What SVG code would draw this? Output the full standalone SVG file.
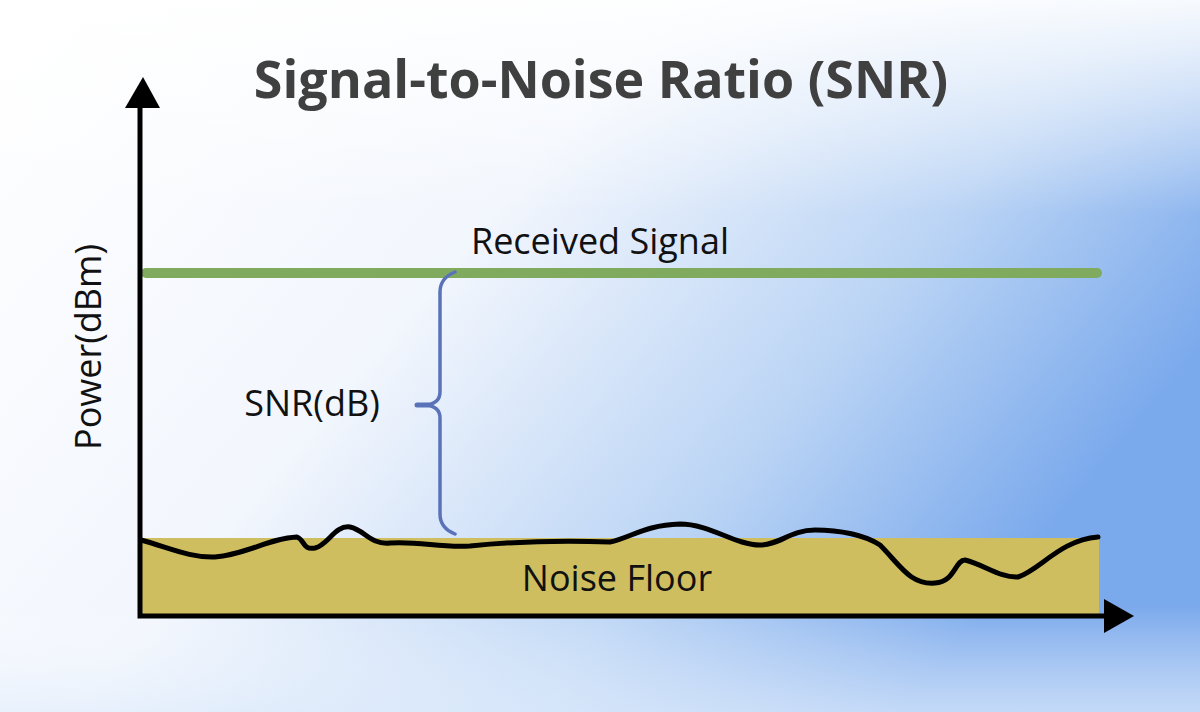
<svg xmlns="http://www.w3.org/2000/svg" width="1200" height="712" viewBox="0 0 1200 712">
<defs>
<linearGradient id="bg" x1="0" y1="0" x2="1" y2="0.5">
<stop offset="0" stop-color="#ffffff"/>
<stop offset="0.45" stop-color="#f2f6fd"/>
<stop offset="0.75" stop-color="#bcd5f5"/>
<stop offset="1" stop-color="#7aa9ec"/>
</linearGradient>
<linearGradient id="bg2" x1="0" y1="0" x2="0" y2="1">
<stop offset="0" stop-color="#ffffff" stop-opacity="0.9"/>
<stop offset="0.3" stop-color="#ffffff" stop-opacity="0"/>
<stop offset="0.85" stop-color="#ffffff" stop-opacity="0"/>
<stop offset="1" stop-color="#e3eefc" stop-opacity="0.7"/>
</linearGradient>
</defs>
<style>
.t{font-family:"Open Sans","Noto Sans",sans-serif;fill:#111;font-size:36px}
.ax{stroke:#000;stroke-width:5;fill:none}
</style>
<rect width="1200" height="712" fill="url(#bg)"/>
<rect width="1200" height="712" fill="url(#bg2)"/>
<text x="601" y="98" text-anchor="middle" class="t" style="font-size:52px;font-weight:bold;fill:#404040">Signal-to-Noise Ratio (SNR)</text>
<g id="noise-floor">
<rect x="141" y="538" width="958" height="76" fill="#cfbe5f"/>
<text x="617" y="591" text-anchor="middle" class="t">Noise Floor</text>
</g>
<g id="noise-curve">
<path d="M141,540 C170,548 190,558 215,557 C245,555 270,538 297,537 C305,540 302,550 315,548 C328,545 335,525 350,527 C365,530 370,545 390,543 C420,541 440,548 470,546 C510,542 560,540 610,542 C630,538 645,525 680,524 C710,524 735,545 760,545 C780,545 790,530 815,530 C840,530 865,535 880,545 C900,565 910,585 935,583 C955,582 955,560 965,560 C985,565 1000,578 1018,577 C1040,570 1060,540 1098,537" fill="none" stroke="#000" stroke-width="5" stroke-linecap="round"/>
</g>
<g id="received-signal">
<line x1="146" y1="273" x2="1097" y2="273" stroke="#80ab5f" stroke-width="10" stroke-linecap="round"/>
<text x="600" y="254" text-anchor="middle" class="t">Received Signal</text>
</g>
<g id="snr">
<path d="M455,272 C445,276 440,282 440,292 L440,392 C440,400 435,404 426,405 L418,405 M426,405 C435,406 440,410 440,418 L440,514 C440,524 445,530 455,534" fill="none" stroke="#5a73b8" stroke-width="3.5" stroke-linecap="round"/>
<line x1="417" y1="405" x2="428" y2="405" stroke="#5a73b8" stroke-width="5" stroke-linecap="round"/>
<text x="312" y="416" text-anchor="middle" class="t">SNR(dB)</text>
</g>
<g id="axes">
<polyline class="ax" points="140,104 140,616 1110,616"/>
<polygon points="143,77 125,108 160,108" fill="#000"/>
<polygon points="1134,616 1104,599 1104,633" fill="#000"/>
<text transform="translate(101,347) rotate(-90)" text-anchor="middle" class="t">Power(dBm)</text>
</g>
</svg>
